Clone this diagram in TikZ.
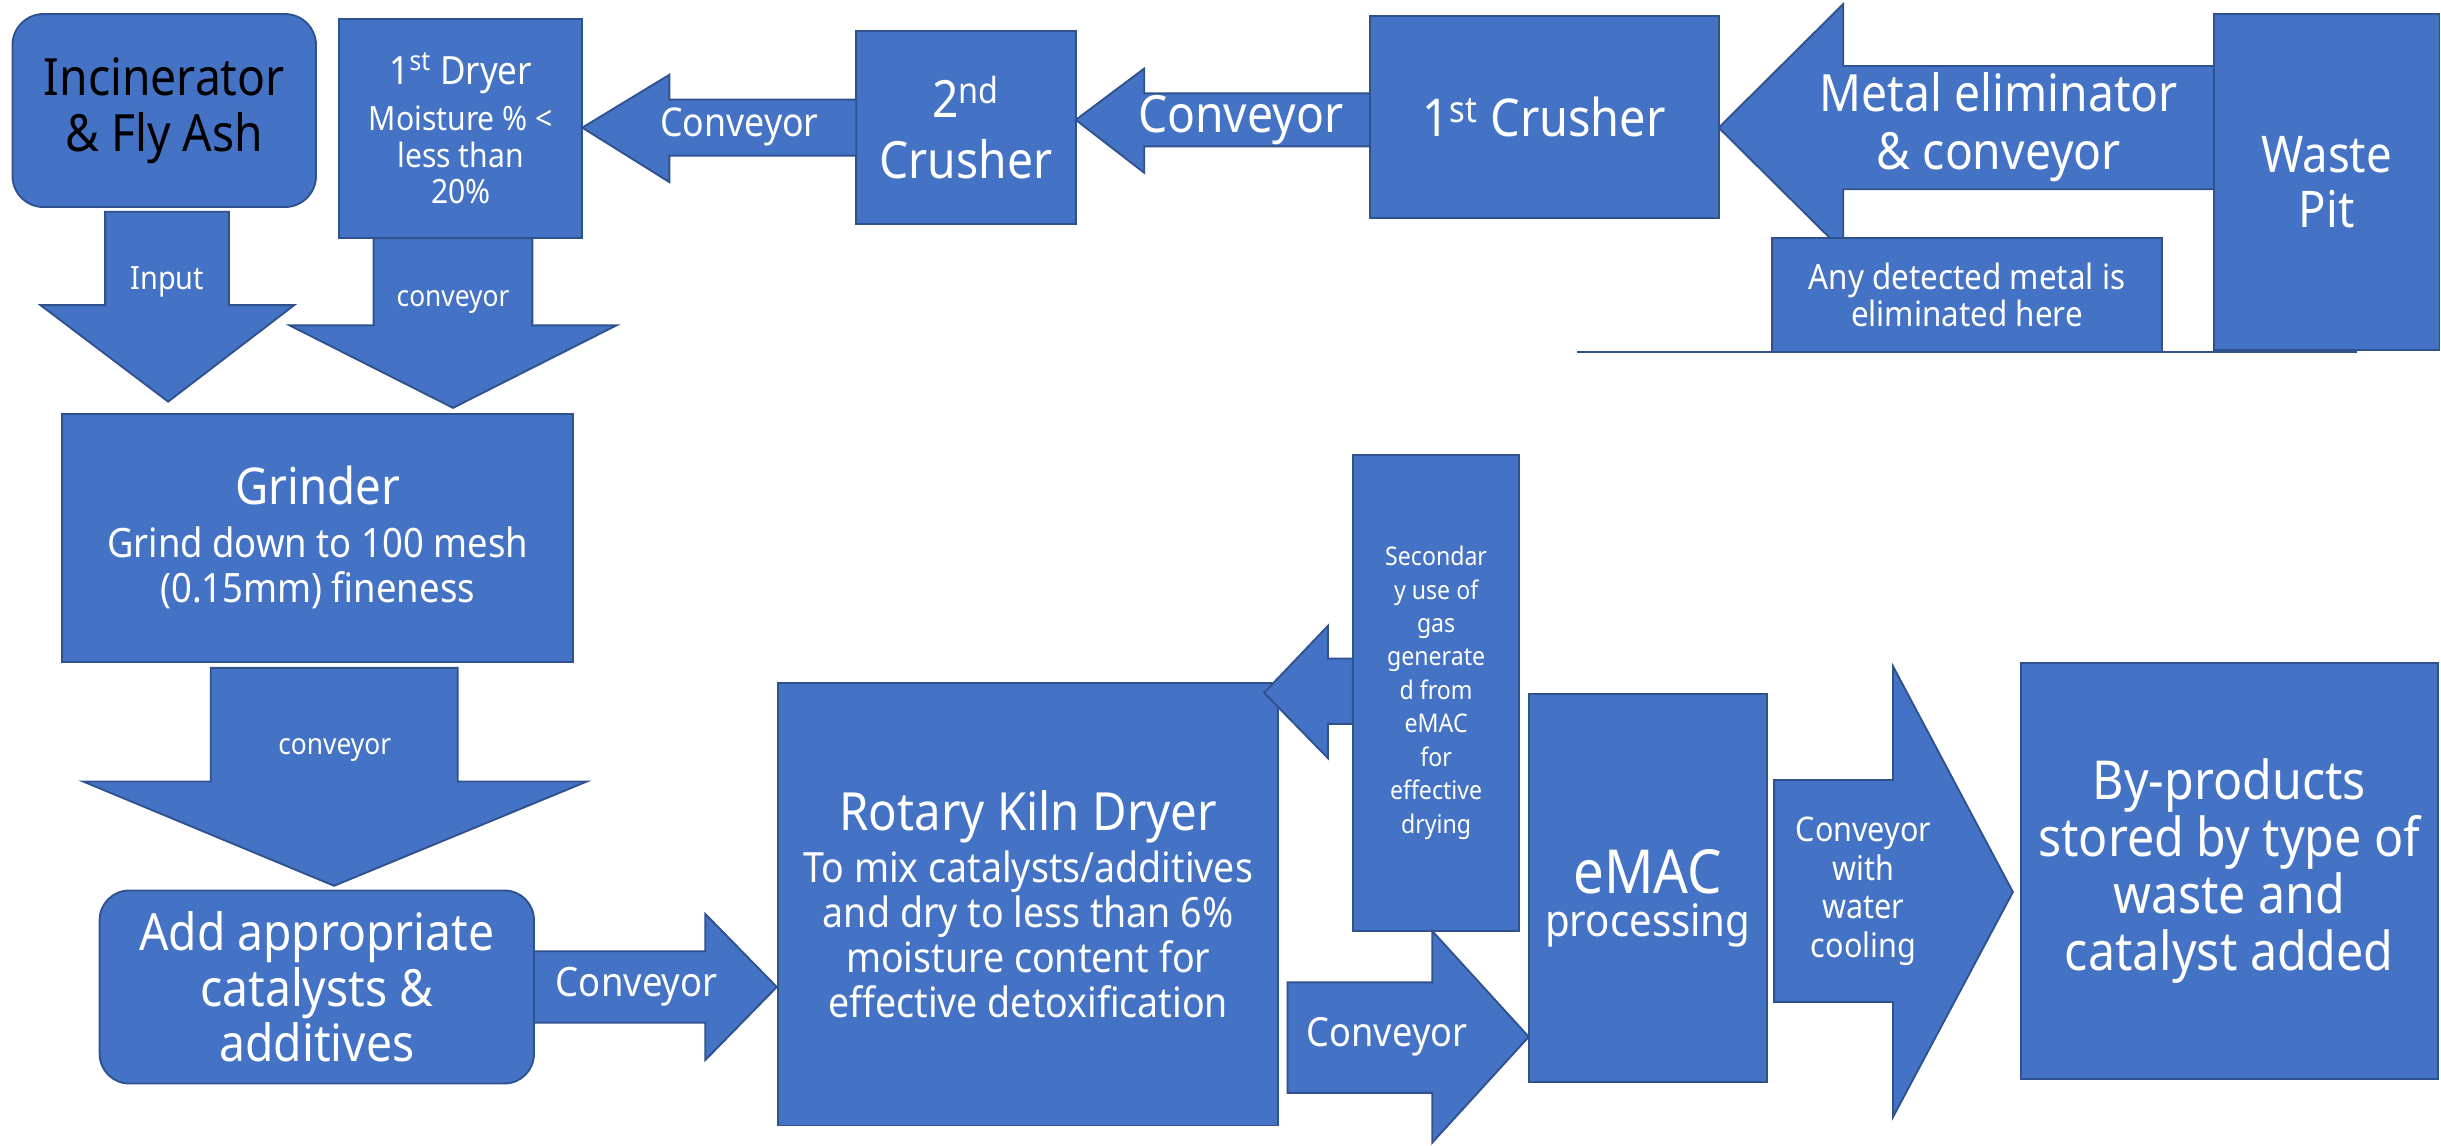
\documentclass[tikz,border=0pt]{standalone}
\usepackage{fontspec}
\setmainfont{Noto Sans}[FakeStretch=0.9]
\definecolor{fillb}{HTML}{4472C4}
\definecolor{edgeb}{HTML}{2F528F}
\newcommand{\fsz}[2]{\fontsize{#1}{#2}\selectfont}
\tikzset{
  box/.style={draw=edgeb, fill=fillb, line width=1.2pt, text=white, align=center, inner sep=0pt, rectangle},
  barrow/.style={draw=edgeb, fill=fillb, line width=1.2pt, line join=miter},
  lbl/.style={text=white, align=center, inner sep=0pt},
}
\begin{document}
\begin{tikzpicture}[x=1pt,y=-1pt]
\useasboundingbox (0,0) rectangle (1568,736);

% ---- top row ----
\node[box, rounded corners=20pt, minimum width=195, minimum height=124, text=black, font=\fsz{33}{36}] (inc) at (105.5,71) {Incinerator\\\& Fly Ash};
\node[box, minimum width=156, minimum height=141, font=\fsz{21.5}{23.5}] (dry1) at (296,82.5)
  {\fsz{25}{26}1\textsuperscript{st} Dryer\\[6pt]Moisture \% <\\less than\\20\%};
\node[box, minimum width=141, minimum height=124, font=\fsz{33}{39}] (cr2) at (620.5,82) {2\textsuperscript{nd}\\Crusher};
\node[box, minimum width=224, minimum height=130, font=\fsz{33.5}{38}] (cr1) at (992,75) {1\textsuperscript{st} Crusher};

% metal eliminator arrow (behind the note box)
\draw[barrow] (1423,42.4) -- (1184,42.4) -- (1184,2.6) -- (1104,82) -- (1184,161.4) -- (1184,121.6) -- (1423,121.6) -- cycle;
\node[lbl, font=\fsz{33}{37}] (melbl) at (1284,81.5) {Metal eliminator\\\& conveyor};

\node[box, minimum width=145, minimum height=216, font=\fsz{32.5}{35}] (pit) at (1494.5,117) {Waste\\Pit};
\node[box, minimum width=251, minimum height=73, font=\fsz{22.4}{24}] (note) at (1263.5,189.5) {Any detected metal is\\eliminated here};
\coordinate (lineL) at (1013,226);
\coordinate (lineR) at (1514,226);
\draw[edgeb, line width=1.6pt] (lineL) -- (lineR);

% conveyors top
\draw[barrow] (550,64) -- (430,64) -- (430,48) -- (374,82) -- (430,117) -- (430,100) -- (550,100) -- cycle;
\node[lbl, font=\fsz{25.5}{28}] (c1) at (475,81.5) {Conveyor};
\draw[barrow] (880,60) -- (735,60) -- (735,44) -- (691,77) -- (735,111) -- (735,94) -- (880,94) -- cycle;
\node[lbl, font=\fsz{33}{36}] (c2) at (797,77) {Conveyor};

% down arrows
\draw[barrow] (67.5,136) -- (147,136) -- (147,196) -- (189,196) -- (108,258) -- (26,196) -- (67.5,196) -- cycle;
\node[lbl, font=\fsz{20.6}{24}] (inp) at (107.5,181) {Input};
\draw[barrow] (240,153) -- (342,153) -- (342,209) -- (396,209) -- (291,262) -- (186,209) -- (240,209) -- cycle;
\node[lbl, font=\fsz{18.8}{22}] (c3) at (291,194) {conveyor};

% grinder
\node[box, minimum width=328, minimum height=159, font=\fsz{26}{29}] (grind) at (204,345.5)
  {\fsz{32.6}{34}Grinder\\[5pt]Grind down to 100 mesh\\(0.15mm) fineness};
\draw[barrow] (135.4,429) -- (294,429) -- (294,502) -- (377,502) -- (214.6,569) -- (53.4,502) -- (135.4,502) -- cycle;
\node[lbl, font=\fsz{18.8}{22}] (c4) at (215,482) {conveyor};

\node[box, rounded corners=19pt, minimum width=279, minimum height=124, font=\fsz{33}{35.5}] (add) at (203.5,634)
  {Add appropriate\\catalysts \&\\additives};
\draw[barrow] (343,611) -- (453,611) -- (453,587) -- (499,634) -- (453,681) -- (453,657) -- (343,657) -- cycle;
\node[lbl, font=\fsz{26}{30}] (c5) at (409,634) {Conveyor};

% kiln
\node[box, minimum width=321, minimum height=284, font=\fsz{26.8}{29}] (kiln) at (660.5,581)
  {\fsz{33.8}{36}Rotary Kiln Dryer\\[4pt]To mix catalysts/additives\\and dry to less than 6\%\\moisture content for\\effective detoxification};
\draw[barrow] (869,423) -- (853,423) -- (853,402) -- (812,445) -- (853,487) -- (853,465) -- (869,465) -- cycle;
\node[box, minimum width=107, minimum height=306, font=\fsz{16.5}{21.5}] (sec) at (922.5,445)
  {Secondar\\y use of\\gas\\generate\\d from\\eMAC\\for\\effective\\drying};

\draw[barrow] (827,631) -- (920,631) -- (920,598) -- (982,666) -- (920,734) -- (920,702) -- (827,702) -- cycle;
\node[lbl, font=\fsz{25.8}{30}] (c6) at (891,666) {Conveyor};

\node[box, minimum width=153, minimum height=249] (emac) at (1058.5,570.5) {};
\node[lbl, font=\fsz{28.7}{28}] (emactxt) at (1058.5,577) {\fsz{39}{40}eMAC\\processing};

\draw[barrow] (1139.6,501) -- (1216,501) -- (1216,428) -- (1293,573) -- (1216,717.5) -- (1216,643.6) -- (1139.6,643.6) -- cycle;
\node[lbl, font=\fsz{21.8}{25}] (c7) at (1197,572.5) {Conveyor\\with\\water\\cooling};

\node[box, minimum width=268, minimum height=267, font=\fsz{34.5}{36.7}] (byp) at (1432,559.5)
  {By-products\\stored by type of\\waste and\\catalyst added};
\end{tikzpicture}
\end{document}
